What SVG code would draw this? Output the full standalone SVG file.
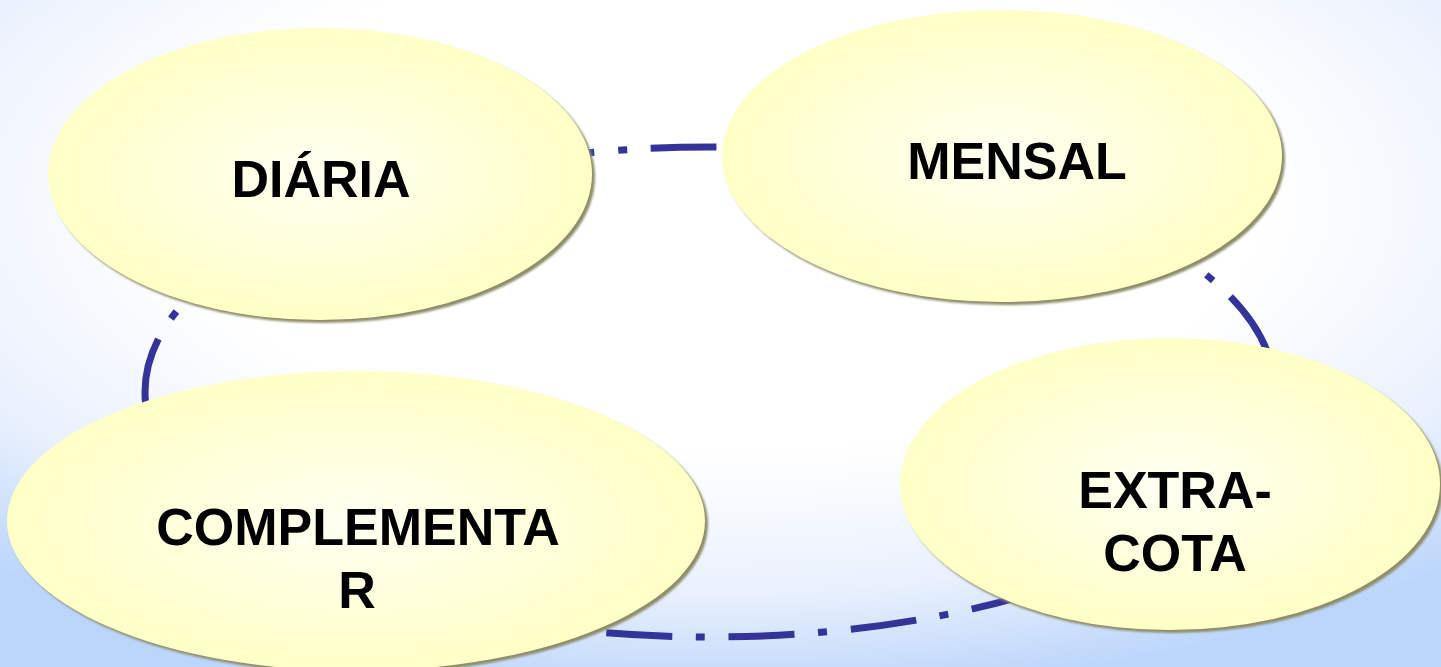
<svg xmlns="http://www.w3.org/2000/svg" width="1441" height="667" viewBox="0 0 1441 667">
  <defs>
    <radialGradient id="bg" cx="0.5" cy="0.3" r="0.75">
      <stop offset="0" stop-color="#FFFFFF"/>
      <stop offset="0.5" stop-color="#FFFFFF"/>
      <stop offset="0.78" stop-color="#EAF1FD"/>
      <stop offset="1" stop-color="#BBD5FB"/>
    </radialGradient>
    <radialGradient id="fill" cx="0.5" cy="0.5" r="0.55">
      <stop offset="0" stop-color="#FFFFF2"/>
      <stop offset="1" stop-color="#FFFFC2"/>
    </radialGradient>
    <filter id="soft" x="-5%" y="-5%" width="110%" height="110%">
      <feGaussianBlur stdDeviation="1"/>
    </filter>
    <style>
      .shadow { fill: #8E8E6C; filter: url(#soft); }
      .node { fill: url(#fill); }
      .label { font-family: "Liberation Sans", Arial, sans-serif; font-weight: bold; font-size: 52px; fill: #000000; text-anchor: middle; }
      .link { fill: none; stroke: #333399; stroke-width: 7; stroke-dasharray: 66 24 9 23.5; stroke-dashoffset: 36; }
    </style>
  </defs>
  <rect width="1441" height="667" fill="url(#bg)"/>
  <g id="connectors">
    <ellipse class="link" cx="710" cy="392" rx="565" ry="245"/>
  </g>
  <g id="node-diaria">
    <ellipse class="shadow" cx="323" cy="177" rx="272" ry="146"/>
    <ellipse class="node" cx="320" cy="174" rx="272" ry="146"/>
    <text class="label" x="321" y="197">DIÁRIA</text>
  </g>
  <g id="node-mensal">
    <ellipse class="shadow" cx="1005" cy="159" rx="280" ry="146"/>
    <ellipse class="node" cx="1002" cy="156" rx="280" ry="146"/>
    <text class="label" x="1017" y="179">MENSAL</text>
  </g>
  <g id="node-extracota">
    <ellipse class="shadow" cx="1173" cy="487" rx="270" ry="146"/>
    <ellipse class="node" cx="1170" cy="484" rx="270" ry="146"/>
    <text class="label" x="1175" y="508">EXTRA-</text>
    <text class="label" x="1175" y="571">COTA</text>
  </g>
  <g id="node-complementar">
    <ellipse class="shadow" cx="359" cy="524" rx="349" ry="150"/>
    <ellipse class="node" cx="356" cy="521" rx="349" ry="150"/>
    <text class="label" x="358" y="545">COMPLEMENTA</text>
    <text class="label" x="357" y="608">R</text>
  </g>
</svg>
